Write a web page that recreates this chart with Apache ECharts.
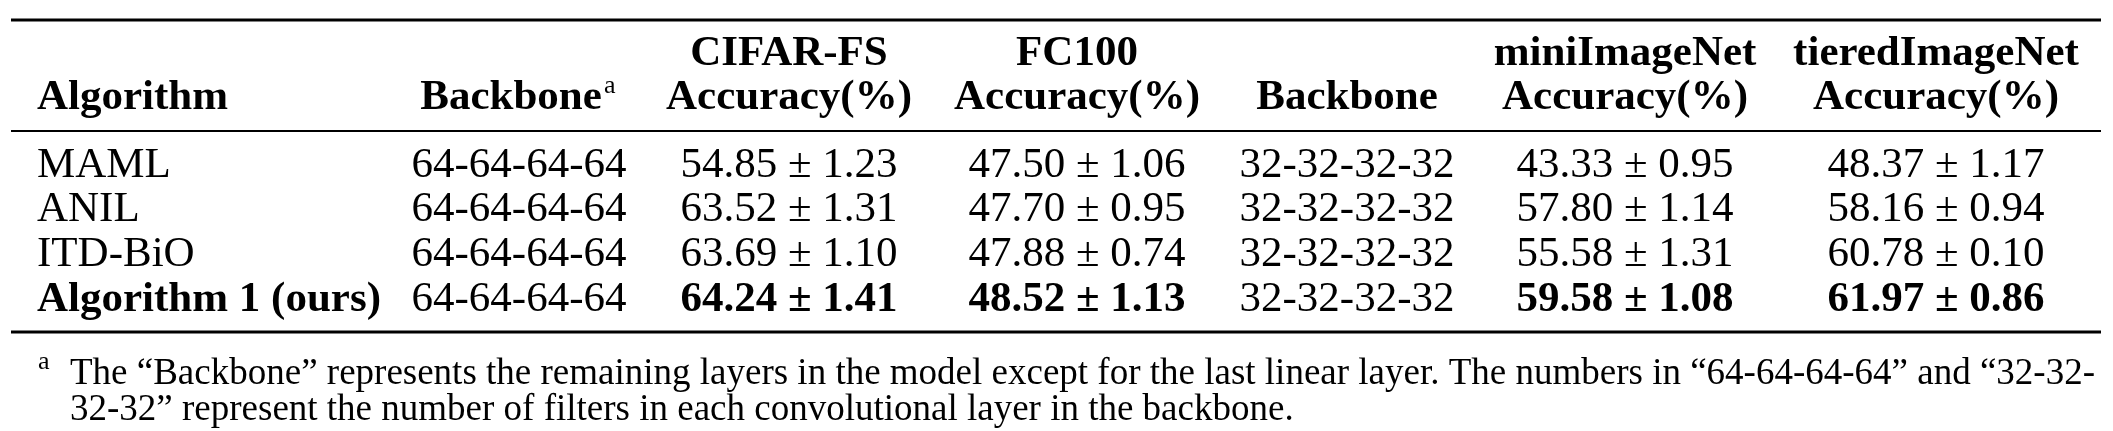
<!DOCTYPE html>
<html><head><meta charset="utf-8">
<script src="https://cdn.jsdelivr.net/npm/echarts@6/dist/echarts.min.js"></script>
<style>html,body{margin:0;background:#fff}#c{width:2113px;height:431px}</style>
</head><body><div id="c"></div>
<script>
const algorithms = ["MAML","ANIL","ITD-BiO","Algorithm 1 (ours)"];
const backbone1 = ["64-64-64-64","64-64-64-64","64-64-64-64","64-64-64-64"];
const cifarfs = ["54.85 ± 1.23","63.52 ± 1.31","63.69 ± 1.10","64.24 ± 1.41"];
const fc100 = ["47.50 ± 1.06","47.70 ± 0.95","47.88 ± 0.74","48.52 ± 1.13"];
const backbone2 = ["32-32-32-32","32-32-32-32","32-32-32-32","32-32-32-32"];
const mini = ["43.33 ± 0.95","57.80 ± 1.14","55.58 ± 1.31","59.58 ± 1.08"];
const tiered = ["48.37 ± 1.17","58.16 ± 0.94","60.78 ± 0.10","61.97 ± 0.86"];
const header1 = ["","","CIFAR-FS","FC100","","miniImageNet","tieredImageNet"];
const header2 = ["Algorithm","Backbone","Accuracy(%)","Accuracy(%)","Backbone","Accuracy(%)","Accuracy(%)"];
const footnote = ["The “Backbone” represents the remaining layers in the model except for the last linear layer. The numbers in “64-64-64-64” and “32-32-",
"32-32” represent the number of filters in each convolutional layer in the backbone."];

const cols = [algorithms,backbone1,cifarfs,fc100,backbone2,mini,tiered];
const colX = [37,519,789,1077,1347,1625,1936];
const rowY = [166,210,255,300];
const F = "'Liberation Serif','Times New Roman',serif";
const FS = 43;
const g = [];
function txt(x,y,s,opt){g.push({type:'text',x:x,y:y,style:Object.assign({text:s,font:FS+'px '+F,fill:'#000',textAlign:'center',textVerticalAlign:'middle'},opt||{})});}
function rule(y,w){g.push({type:'rect',shape:{x:11,y:y-w/2,width:2090,height:w},style:{fill:'#000'}});}
rule(20,3);rule(131,2);rule(332,3);
header1.forEach((h,i)=>{if(h)txt(colX[i],54,h,{font:'bold '+FS+'px '+F});});
header2.forEach((h,i)=>{txt(i===1?colX[i]-8:colX[i],98,h,{font:'bold '+FS+'px '+F,textAlign:i===0?'left':'center'});});
txt(colX[1]+85,86,'a',{font:'26px '+F,textAlign:'left'});
cols.forEach((col,c)=>col.forEach((v,r)=>{
  const bold = r===3 && c!==1 && c!==4;
  txt(colX[c],rowY[r],v,{font:(bold?'bold ':'')+FS+'px '+F,textAlign:c===0?'left':'center'});
}));
txt(38,362,'a',{font:'26px '+F,textAlign:'left'});
txt(70,374,footnote[0],{font:'37px '+F,textAlign:'left'});
txt(70,410,footnote[1],{font:'37px '+F,textAlign:'left'});
const chart = echarts.init(document.getElementById('c'));
chart.setOption({animation:false,graphic:g});
</script></body></html>
